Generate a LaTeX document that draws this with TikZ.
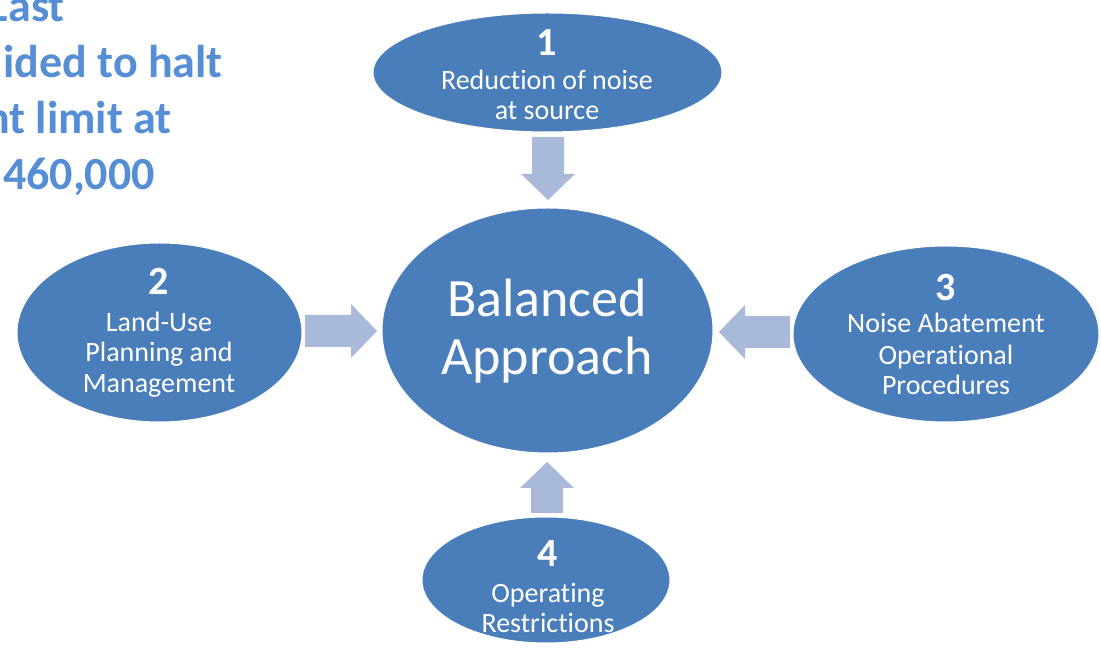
\documentclass[tikz,border=0pt]{standalone}
\usepackage{fontspec}
\setmainfont{Carlito}[Ligatures={NoCommon}]
\usetikzlibrary{shapes.geometric}
\definecolor{ellblue}{HTML}{4A7EBB}
\definecolor{arrblue}{HTML}{A9B9D9}
\definecolor{txtblue}{HTML}{558ED5}
\tikzset{
 oval/.style={ellipse, fill=ellblue, draw=white, line width=1pt, inner sep=0pt},
 lbl/.style={text=white, font=\fontsize{28}{30}\selectfont, anchor=base, inner sep=0pt},
 num/.style={text=white, font=\bfseries\fontsize{40}{42}\selectfont, anchor=center, inner sep=0pt},
 big/.style={text=white, font=\fontsize{54}{60}\selectfont, anchor=base, inner sep=0pt},
 side/.style={text=txtblue, font=\bfseries\fontsize{46}{55}\selectfont, anchor=base east, inner sep=0pt},
 blockarrow/.style={fill=arrblue, draw=none}
}
\newcommand{\barrow}[4]{\begin{scope}[shift={(#1,#2)},rotate=#3]\fill[blockarrow] (0,0) -- (-26,27) -- (-26,16) -- (-#4,16) -- (-#4,-16) -- (-26,-16) -- (-26,-27) -- cycle;\end{scope}}
\begin{document}
\begin{tikzpicture}[x=1pt,y=1pt]
\begin{scope}
\clip (0,0) rectangle (1101,648);
\fill[white] (0,0) rectangle (1101,648);
% side text
\node[side] (s1) at (65,626) {Last};
\node[side] (s2) at (223,570) {ided to halt};
\node[side] (s3) at (172,514) {nt limit at};
\node[side] (s4) at (155,458) {460,000};
% ellipses
\node[oval, minimum width=331pt, minimum height=245pt] (c) at (547.5,317.5) {};
\node[oval, minimum width=349pt, minimum height=119pt] (e1) at (547.5,575.5) {};
\node[oval, minimum width=285pt, minimum height=179pt] (e2) at (159.5,315.5) {};
\node[oval, minimum width=306pt, minimum height=176pt] (e3) at (946,314) {};
\node[oval, minimum width=248pt, minimum height=126pt] (e4) at (546,68) {};
% arrows
\barrow{548}{448}{-90}{63}
\barrow{377}{317}{0}{72}
\barrow{719}{316}{180}{71}
\barrow{547}{186}{90}{51}
% center text
\node[big] (c1) at (547,331) {Balanced};
\node[big] (c2) at (547,273) {Approach};
% e1
\node[num] (n1) at (547,605) {1};
\node[lbl] (t11) at (547,558) {Reduction of noise};
\node[lbl] (t12) at (547,528) {at source};
% e2
\node[num] (n2) at (159,367) {2};
\node[lbl] (t21) at (159,316) {Land-Use};
\node[lbl] (t22) at (159,286) {Planning and};
\node[lbl] (t23) at (159,255) {Management};
% e3
\node[num] (n3) at (946,360) {3};
\node[lbl] (t31) at (946,315) {Noise Abatement};
\node[lbl] (t32) at (946,283) {Operational};
\node[lbl] (t33) at (946,253) {Procedures};
% e4
\node[num] (n4) at (548,94) {4};
\node[lbl] (t41) at (548,45) {Operating};
\node[lbl] (t42) at (548,15) {Restrictions};
\end{scope}
\pgfresetboundingbox
\useasboundingbox (0,0) rectangle (1101,648);
\end{tikzpicture}
\end{document}
